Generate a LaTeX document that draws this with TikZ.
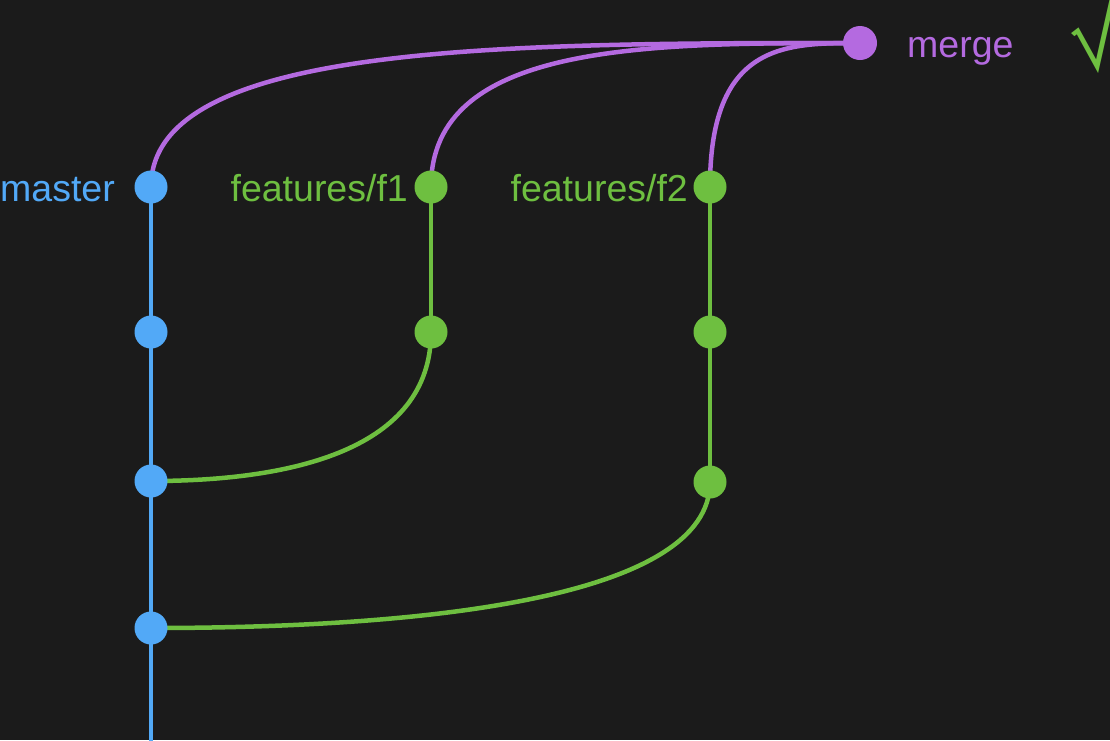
\documentclass[tikz,border=0pt]{standalone}
\usepackage{fontspec}
\setmainfont{Liberation Sans}
\newfontfamily\symfont{TeX Gyre Heros}
\definecolor{bgc}{HTML}{1B1B1B}
\definecolor{cblue}{HTML}{52A9F7}
\definecolor{cgreen}{HTML}{6EBF40}
\definecolor{cpurple}{HTML}{B46AE0}
\pgfdeclarelayer{bg}
\pgfdeclarelayer{lines}
\pgfsetlayers{bg,lines,main}
\tikzset{
  commit/.style={circle, inner sep=0pt, minimum size=33pt, draw=none},
  mergecommit/.style={circle, inner sep=0pt, minimum size=34pt, draw=none},
  branchline/.style={line width=4.5pt},
  lbl/.style={inner sep=0pt, font=\fontsize{37.5}{44}\selectfont},
}
\begin{document}
\begin{tikzpicture}[x=1pt,y=-1pt]
\useasboundingbox (0,0) rectangle (1110,740);
\begin{pgfonlayer}{bg}
\fill[bgc] (0,0) rectangle (1110,740);
\end{pgfonlayer}
% commits
\node[commit, fill=cblue] (m1) at (151,187) {};
\node[commit, fill=cblue] (m2) at (151,332) {};
\node[commit, fill=cblue] (m3) at (151,481) {};
\node[commit, fill=cblue] (m4) at (151,628) {};
\coordinate (mend) at (151,745);
\node[commit, fill=cgreen] (a1) at (431,187) {};
\node[commit, fill=cgreen] (a2) at (431,332) {};
\node[commit, fill=cgreen] (b1) at (710,187) {};
\node[commit, fill=cgreen] (b2) at (710,332) {};
\node[commit, fill=cgreen] (b3) at (710,482) {};
\node[mergecommit, fill=cpurple] (mg) at (860,43) {};
% labels
\node[lbl, text=cblue, anchor=base east] (lm) at (115,201) {master};
\node[lbl, text=cgreen, anchor=base east] (la) at (408,201) {features/f1};
\node[lbl, text=cgreen, anchor=base east] (lb) at (688,201) {features/f2};
\node[lbl, text=cpurple, anchor=base west] (lmg) at (907,57) {merge};
\node[inner sep=0pt, text=cgreen, anchor=base west, font=\symfont\fontsize{82}{90}\selectfont] (chk) at (1066,69) {\scalebox{1.2}[1]{√}};
% connectors
\begin{pgfonlayer}{lines}
\draw[branchline, cblue] (m1.center) -- (m2.center) -- (m3.center) -- (m4.center) -- (mend);
\draw[branchline, cgreen] (a1.center) -- (a2.center);
\draw[branchline, cgreen] (b1.center) -- (b2.center) -- (b3.center);
\draw[branchline, cgreen] (a2.center) .. controls (431,450) and (291,481) .. (m3.center);
\draw[branchline, cgreen] (b3.center) .. controls (710,597) and (430,628) .. (m4.center);
\draw[branchline, cpurple] (m1.center) .. controls (151,43) and (505,43) .. (mg.center);
\draw[branchline, cpurple] (a1.center) .. controls (431,43) and (645,43) .. (mg.center);
\draw[branchline, cpurple] (b1.center) .. controls (710,43) and (785,43) .. (mg.center);
\end{pgfonlayer}
\end{tikzpicture}
\end{document}
